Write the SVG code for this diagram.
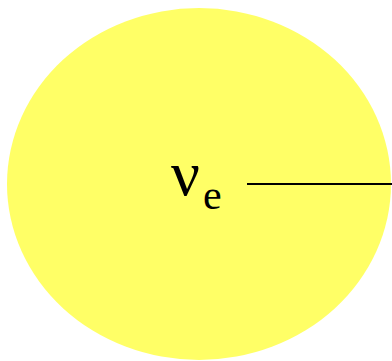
<svg xmlns="http://www.w3.org/2000/svg" width="392" height="361" viewBox="0 0 392 361">
<style>
.lbl{font-family:"Liberation Serif","Times New Roman",serif;fill:#000}
</style>
<rect width="392" height="361" fill="#fff"/>
<g id="node-ve">
<ellipse cx="199" cy="184" rx="192" ry="176" fill="#ffff66"/>
<text class="lbl" x="171" y="195" font-size="64">ν</text>
<text class="lbl" x="203" y="209" font-size="42">e</text>
</g>
<g id="connectors">
<line x1="247" y1="184" x2="392" y2="184" stroke="#000" stroke-width="2"/>
</g>
</svg>
